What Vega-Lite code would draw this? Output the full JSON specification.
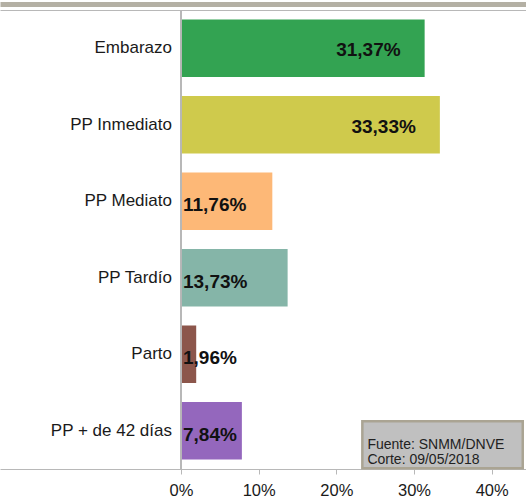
{
  "$schema": "https://vega.github.io/schema/vega-lite/v6.json",
  "width": 526,
  "height": 459,
  "autosize": {"type": "none"},
  "padding": {"top": 10, "left": 0, "right": 0, "bottom": 29},
  "background": "white",
  "config": {
    "view": {"stroke": null},
    "font": "Liberation Sans",
    "locale": {"number": {"decimal": ",", "thousands": ".", "grouping": [3], "currency": ["", "%"]}}
  },
  "data": {
    "values": [
      {"cat": "Embarazo", "v": 31.37},
      {"cat": "PP Inmediato", "v": 33.33},
      {"cat": "PP Mediato", "v": 11.76},
      {"cat": "PP Tardío", "v": 13.73},
      {"cat": "Parto", "v": 1.96},
      {"cat": "PP + de 42 días", "v": 7.84}
    ]
  },
  "encoding": {
    "y": {
      "field": "cat",
      "type": "nominal",
      "scale": {
        "domain": ["Embarazo", "PP Inmediato", "PP Mediato", "PP Tardío", "Parto", "PP + de 42 días"],
        "paddingInner": 0.25,
        "paddingOuter": 0.125
      },
      "axis": null
    }
  },
  "layer": [
    {
      "mark": {"type": "bar"},
      "encoding": {
        "x": {
          "field": "v",
          "type": "quantitative",
          "scale": {"domain": [-23.3, 44.42], "nice": false, "zero": false},
          "axis": {
            "orient": "bottom",
            "values": [0, 10, 20, 30, 40],
            "labelExpr": "datum.value + '%'",
            "title": null,
            "grid": false,
            "domainColor": "#b8b8b8",
            "tickColor": "#b8b8b8",
            "tickSize": 5,
            "labelFontSize": 16.5,
            "labelColor": "#1a1a1a",
            "labelPadding": 8
          }
        },
        "x2": {"datum": 0},
        "color": {
          "field": "cat",
          "type": "nominal",
          "scale": {
            "domain": ["Embarazo", "PP Inmediato", "PP Mediato", "PP Tardío", "Parto", "PP + de 42 días"],
            "range": ["#33a352", "#cfca4c", "#fdb877", "#85b5a8", "#8c564b", "#9467bd"]
          },
          "legend": null
        }
      }
    },
    {
      "mark": {"type": "rule", "color": "#b8b8b8"},
      "encoding": {
        "x": {
          "datum": 0,
          "type": "quantitative",
          "axis": {
            "orient": "top",
            "labels": false,
            "ticks": false,
            "grid": false,
            "title": null,
            "domainColor": "#b8b8b8"
          }
        },
        "y": null
      }
    },
    {
      "mark": {"type": "text", "align": "right", "baseline": "middle", "dx": -9, "fontSize": 17, "color": "#1a1a1a"},
      "encoding": {
        "x": {
          "datum": 0,
          "type": "quantitative",
          "axis": {
            "orient": "top",
            "labels": false,
            "ticks": false,
            "grid": false,
            "title": null,
            "offset": 6,
            "domainWidth": 5,
            "domainColor": "#b4b0a4"
          }
        },
        "text": {"field": "cat"}
      }
    },
    {
      "transform": [{"filter": "datum.v > 20"}],
      "mark": {"type": "text", "align": "right", "baseline": "middle", "dx": -24, "dy": 2, "fontSize": 19, "fontWeight": "bold", "color": "#111"},
      "encoding": {
        "x": {"field": "v", "type": "quantitative", "axis": null},
        "text": {"field": "v", "type": "quantitative", "format": "$.2f"}
      }
    },
    {
      "transform": [{"filter": "datum.v < 20"}],
      "mark": {"type": "text", "align": "left", "baseline": "middle", "dx": 2, "dy": 4, "fontSize": 19, "fontWeight": "bold", "color": "#111"},
      "encoding": {
        "x": {"datum": 0, "type": "quantitative", "axis": null},
        "text": {"field": "v", "type": "quantitative", "format": "$.2f"}
      }
    },
    {
      "data": {"values": [{"cat": "PP + de 42 días", "nota": "Fuente: SNMM/DNVE\nCorte: 09/05/2018"}]},
      "mark": {"type": "bar", "height": {"band": 0.82}, "yOffset": 14, "fill": "#c0c0c0", "stroke": "#aaa493", "strokeWidth": 2.5},
      "encoding": {
        "x": {"datum": 23.35, "type": "quantitative", "axis": null},
        "x2": {"datum": 44.0}
      }
    },
    {
      "data": {"values": [{"cat": "PP + de 42 días", "nota": "Fuente: SNMM/DNVE\nCorte: 09/05/2018"}]},
      "mark": {"type": "text", "align": "left", "baseline": "middle", "lineBreak": "\n", "lineHeight": 15, "yOffset": 14, "fontSize": 14, "color": "#222"},
      "encoding": {
        "x": {"datum": 24.0, "type": "quantitative", "axis": null},
        "text": {"field": "nota"}
      }
    }
  ],
  "resolve": {"axis": {"x": "independent"}}
}
